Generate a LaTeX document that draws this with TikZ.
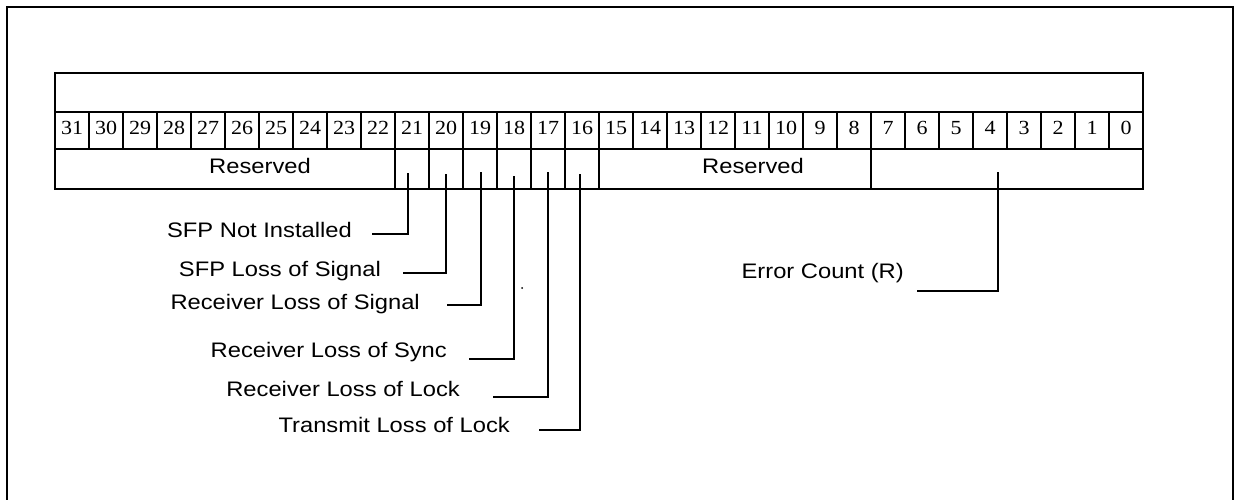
\documentclass[tikz,border=0pt]{standalone}
\usepackage{fontspec}
\setmainfont{Liberation Serif}
\newfontfamily\numfont[FakeStretch=1.1]{Liberation Serif}
\newfontfamily\lblfont[FakeStretch=1.13]{Liberation Sans}

\tikzset{
  bitnum/.style={font=\numfont\fontsize{20}{20}\selectfont, inner sep=0pt, anchor=base},
  fieldlbl/.style={font=\lblfont\fontsize{21}{21}\selectfont, inner sep=0pt},
  regline/.style={line width=1.6pt},
  leader/.style={line width=1.6pt},
}

\begin{document}
\begin{tikzpicture}[x=1pt, y=-1pt]
        \useasboundingbox (0,0) rectangle (1239,500);
        % frame, open at the bottom
        \draw[line width=2pt] (7,500) -- (7,7) -- (1233,7) -- (1233,500);
        % register rows
        \draw[regline] (55,73) rectangle (1143,189);
        \draw[regline] (55,112) -- (1143,112);
        \draw[regline] (55,149) -- (1143,149);
        \foreach \i in {1,...,31}
            \draw[regline] ({55+\i*34},112) -- ({55+\i*34},149);
        \foreach \x in {395,429,463,497,531,565,599,871}
            \draw[regline] (\x,149) -- (\x,189);
        \foreach \b in {0,...,31}
            \node[bitnum] (n\b) at ({55+(31-\b)*34+17},135) {\b};
        \node[fieldlbl, anchor=base] (rsvhi) at (260,173) {Reserved};
        \node[fieldlbl, anchor=base] (rsvlo) at (753,173) {Reserved};
        % field labels
        \node[fieldlbl, anchor=base east] (sfpni) at (352,237) {SFP Not Installed};
        \node[fieldlbl, anchor=base east] (sfplos) at (381,276) {SFP Loss of Signal};
        \node[fieldlbl, anchor=base east] (rxlos) at (420,309) {Receiver Loss of Signal};
        \node[fieldlbl, anchor=base east] (rxsync) at (447,357) {Receiver Loss of Sync};
        \node[fieldlbl, anchor=base east] (rxlock) at (460,396) {Receiver Loss of Lock};
        \node[fieldlbl, anchor=base east] (txlock) at (510,432) {Transmit Loss of Lock};
        \node[fieldlbl, anchor=base east] (errcnt) at (904,278) {Error Count (R)};
        % leaders from the bit cells
        \foreach \b/\x/\t/\y/\e in {21/408/173/234/372, 20/446/174/273/403,
                19/481/172/305/447, 18/514/176/359/469, 17/548/172/397/493,
                16/580/174/430/539, ec/998/172/291/917} {
            \coordinate (t\b) at (\x,\t);
            \coordinate (e\b) at (\e,\y);
            \draw[leader] (t\b) |- (e\b);
        }
        \fill (522,288) circle (1pt);
\end{tikzpicture}
\end{document}
